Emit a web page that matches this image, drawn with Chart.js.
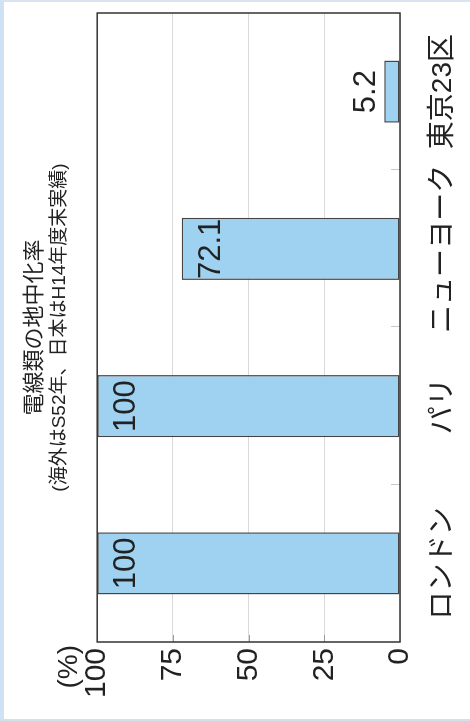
<!DOCTYPE html>
<html>
<head>
<meta charset="utf-8">
<script src="https://cdn.jsdelivr.net/npm/chart.js@4.4.1/dist/chart.umd.min.js"></script>
<style>
  html, body { margin: 0; padding: 0; background: #ffffff; width: 470px; height: 721px; overflow: hidden; }
  #frame { position: absolute; left: 0; top: 0; width: 466px; height: 717px;
           border-left: 4px solid #cfe1f4; border-top: 2px solid #d8e4ef; border-bottom: 2px solid #d3dfe9; }
  #rot { position: absolute; left: 0; top: 721px; width: 721px; height: 470px;
         transform-origin: 0 0; transform: rotate(-90deg); }
  canvas { display: block; }
</style>
</head>
<body>
<div id="frame"></div>
<div id="rot"><canvas id="c" width="721" height="470"></canvas></div>
<script>
// ---- data ----
const categories = ['ロンドン', 'パリ', 'ニューヨーク', '東京23区'];
const rates = [100, 100, 72.1, 5.2];
const valueTicks = [0, 25, 50, 75, 100];
const unitLabel = '(%)';
const titleText = '電線類の地中化率';
const subtitleText = '(海外はS52年、日本はH14年度末実績)';

const FONT = "'Liberation Sans', 'Noto Sans CJK JP', sans-serif";

const plotDecor = {
  id: 'plotDecor',
  beforeDatasetsDraw(chart) {
    const { ctx, chartArea: a, scales } = chart;
    ctx.save();
    ctx.strokeStyle = '#c8c8c8';
    ctx.lineWidth = 1;
    const n = categories.length;
    for (let i = 1; i < n; i++) {
      const x = Math.round(a.left + i * (a.right - a.left) / n) + 0.5;
      ctx.beginPath(); ctx.moveTo(x, a.bottom); ctx.lineTo(x, a.bottom - 9); ctx.stroke();
    }
    ctx.strokeStyle = '#9a9a9a';
    valueTicks.forEach(v => {
      if (v === 0 || v === 100) return;
      const y = Math.round(scales.y.getPixelForValue(v)) + 0.5;
      ctx.beginPath(); ctx.moveTo(a.left, y); ctx.lineTo(a.left + 7, y); ctx.stroke();
    });
    ctx.restore();
  },
  afterDatasetsDraw(chart) {
    const { ctx, chartArea: a, scales } = chart;
    ctx.save();
    ctx.strokeStyle = '#333333';
    ctx.lineWidth = 1.5;
    ctx.strokeRect(a.left, a.top, a.right - a.left, a.bottom - a.top);
    const meta = chart.getDatasetMeta(0);
    ctx.font = '31px ' + FONT;
    ctx.fillStyle = '#222222';
    ctx.textAlign = 'center';
    ctx.textBaseline = 'alphabetic';
    meta.data.forEach((bar, i) => {
      const txt = String(rates[i]);
      if (bar.base - bar.y > 45) {
        ctx.fillText(txt, bar.x, bar.y + 38);
      } else {
        ctx.fillText(txt, bar.x, bar.y - 9);
      }
    });
    ctx.font = '28px ' + FONT;
    ctx.textAlign = 'right';
    ctx.textBaseline = 'alphabetic';
    ctx.fillText(unitLabel, a.left - 3, scales.y.getPixelForValue(100) - 20);
    ctx.restore();
  }
};

new Chart(document.getElementById('c'), {
  type: 'bar',
  data: {
    labels: categories,
    datasets: [{
      data: rates,
      backgroundColor: '#9fd1f1',
      borderColor: '#444444',
      borderWidth: 1.5,
      borderSkipped: false,
      categoryPercentage: 1,
      barPercentage: 0.395
    }]
  },
  options: {
    responsive: false,
    devicePixelRatio: 1,
    animation: false,
    layout: { padding: { left: 23, right: 13, top: 0, bottom: 12 } },
    plugins: {
      legend: { display: false },
      tooltip: { enabled: false },
      title: {
        display: true, text: titleText, color: '#222222', fullSize: false,
        font: { family: FONT, size: 22, weight: 'normal' },
        padding: { top: 22, bottom: 0 }
      },
      subtitle: {
        display: true, text: subtitleText, color: '#222222', fullSize: false,
        font: { family: FONT, size: 19, weight: 'normal' },
        padding: { top: 0, bottom: 26 }
      }
    },
    scales: {
      x: {
        grid: { display: false, drawTicks: false },
        border: { display: false },
        ticks: {
          color: '#222222', font: { family: FONT, size: 28 },
          padding: 26, maxRotation: 0, minRotation: 0, autoSkip: false
        },
        afterFit(scale) { scale.height = 58; scale.paddingLeft = 0; scale.paddingRight = 0; }
      },
      y: {
        min: 0, max: 100,
        afterBuildTicks(scale) { scale.ticks = valueTicks.map(v => ({ value: v })); },
        grid: { color: '#d9d9d9', lineWidth: 1, drawTicks: false },
        border: { display: false },
        ticks: {
          color: '#222222', font: { family: FONT, size: 30 }, padding: 6
        },
        afterFit(scale) { scale.width = 56; }
      }
    }
  },
  plugins: [plotDecor]
});
</script>
</body>
</html>
